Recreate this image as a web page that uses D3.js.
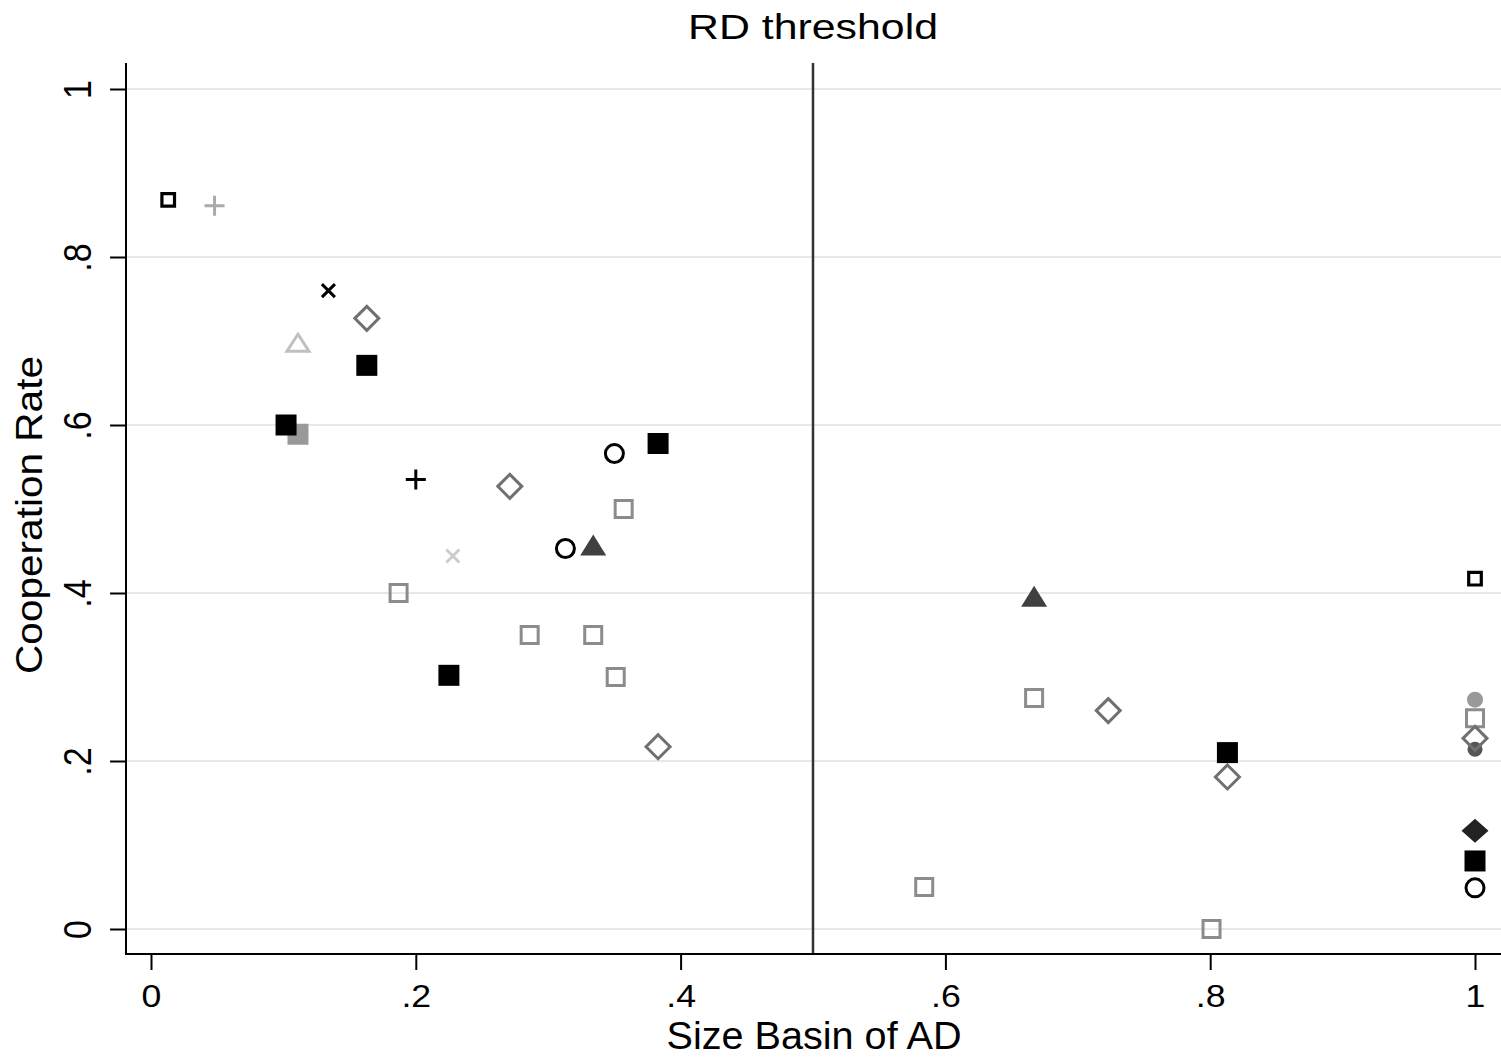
<!DOCTYPE html>
<html>
<head>
<meta charset="utf-8">
<script src="https://cdn.jsdelivr.net/npm/d3@7"></script>
<style>
  body { margin: 0; background: #fff; }
  svg { display: block; font-family: "Liberation Sans", Arial, sans-serif; }
</style>
</head>
<body>
<svg id="chart" width="1501" height="1062"></svg>
<script>
// ---- data (x = size of basin of AD, y = cooperation rate) ----
const xTicks = [0, 0.2, 0.4, 0.6, 0.8, 1];
const yTicks = [0, 0.2, 0.4, 0.6, 0.8, 1];
const threshold = 0.5;

const filledGrayCircle = [[1, 0.273]];
const filledDarkCircle = [[1, 0.214]];
const filledGraySquare = [[0.111, 0.589]];
const filledBlackSquare = [[0.163, 0.671], [0.102, 0.600], [0.383, 0.578], [0.225, 0.302], [0.813, 0.210], [1, 0.081]];
const hollowGraySquare = [[0.357, 0.500], [0.187, 0.400], [0.286, 0.350], [0.334, 0.350], [0.351, 0.300],
                          [0.667, 0.275], [0.584, 0.050], [0.801, 0.000], [1, 0.251]];
const hollowDiamond = [[0.163, 0.727], [0.271, 0.527], [0.383, 0.217], [0.723, 0.260], [0.813, 0.181], [1, 0.227]];
const hollowTriangle = [[0.111, 0.698]];
const filledTriangle = [[0.334, 0.457], [0.667, 0.396]];
const hollowCircle = [[0.350, 0.566], [0.313, 0.453], [1, 0.049]];
const blackPlus = [[0.200, 0.535]];
const grayPlus = [[0.048, 0.861]];
const blackCross = [[0.134, 0.760]];
const grayCross = [[0.228, 0.444]];
const smallSquare = [[0.013, 0.868], [1, 0.417]];
const filledDarkDiamond = [[1, 0.117]];

// ---- layout ----
const svg = d3.select('#chart');
const axisX = 126, axisY = 954, plotTop = 63, plotRight = 1501;

const x = d3.scaleLinear().domain([0, 1]).range([151, 1475]);
const y = d3.scaleLinear().domain([0, 1]).range([929, 89]);

const fmt = d => d === 0 ? "0" : d === 1 ? "1" : d3.format(".1f")(d).replace(/^0/, "");

svg.append("rect").attr("width", 1501).attr("height", 1062).attr("fill", "#fff");

// gridlines
svg.append("g").selectAll("line").data(yTicks).enter().append("line")
    .attr("x1", axisX).attr("x2", plotRight)
    .attr("y1", d => y(d)).attr("y2", d => y(d))
    .attr("stroke", "#e8e8e8").attr("stroke-width", 2);

// threshold line
svg.append("line")
    .attr("x1", x(threshold)).attr("x2", x(threshold))
    .attr("y1", plotTop).attr("y2", axisY)
    .attr("stroke", "#333").attr("stroke-width", 2.5);

// y axis
const gy = svg.append("g").attr("transform", `translate(${axisX},0)`)
    .call(d3.axisLeft(y).tickValues(yTicks).tickSize(16).tickFormat(fmt));
gy.select(".domain").remove();
gy.selectAll(".tick line").attr("stroke", "#000").attr("stroke-width", 2);
gy.selectAll(".tick text")
    .attr("x", null).attr("dy", null)
    .attr("fill", "#000")
    .attr("font-size", 34)
    .attr("text-anchor", "middle")
    .attr("transform", "translate(-35,0) rotate(-90) scale(1,1.15)");
svg.append("line").attr("x1", axisX).attr("x2", axisX).attr("y1", plotTop).attr("y2", axisY + 1)
    .attr("stroke", "#000").attr("stroke-width", 2);

// x axis
const gx = svg.append("g").attr("transform", `translate(0,${axisY})`)
    .call(d3.axisBottom(x).tickValues(xTicks).tickSize(16).tickFormat(fmt));
gx.select(".domain").remove();
gx.selectAll(".tick line").attr("stroke", "#000").attr("stroke-width", 2);
gx.selectAll(".tick text")
    .attr("y", 53).attr("dy", null)
    .attr("fill", "#000")
    .attr("font-size", 31)
    .attr("transform", "scale(1.15,1)");
svg.append("line").attr("x1", axisX - 1).attr("x2", plotRight).attr("y1", axisY).attr("y2", axisY)
    .attr("stroke", "#000").attr("stroke-width", 2);

// titles
svg.append("text").text("RD threshold")
    .attr("x", 813).attr("y", 39).attr("text-anchor", "middle")
    .attr("font-size", 35).attr("textLength", 250).attr("lengthAdjust", "spacingAndGlyphs");
svg.append("text").text("Size Basin of AD")
    .attr("x", 814).attr("y", 1049).attr("text-anchor", "middle")
    .attr("font-size", 38).attr("textLength", 295).attr("lengthAdjust", "spacingAndGlyphs");
svg.append("text").text("Cooperation Rate")
    .attr("transform", "translate(42,515) rotate(-90)").attr("text-anchor", "middle")
    .attr("font-size", 37).attr("textLength", 318).attr("lengthAdjust", "spacingAndGlyphs");

// ---- markers ----
const shapes = {
    square: s => `M${-s},${-s}H${s}V${s}H${-s}Z`,
    diamond: (w, h) => `M0,${-h}L${w},0L0,${h}L${-w},0Z`,
    triangle: (w, h) => `M0,${-h}L${w},${h}L${-w},${h}Z`,
    circle: r => d3.arc()({innerRadius: 0, outerRadius: r, startAngle: 0, endAngle: 2 * Math.PI}),
    plus: s => `M${-s},0H${s}M0,${-s}V${s}`,
    cross: s => `M${-s},${-s}L${s},${s}M${-s},${s}L${s},${-s}`
};

function markers(data, d, fill, stroke, width) {
    svg.append("g").selectAll("path").data(data).enter().append("path")
        .attr("transform", p => `translate(${x(p[0])},${y(p[1])})`)
        .attr("d", d)
        .attr("fill", fill)
        .attr("stroke", stroke)
        .attr("stroke-width", width || 0);
}

markers(filledGrayCircle, shapes.circle(8), "#999", "none");
markers(filledDarkCircle, shapes.circle(7.5), "#555", "none");
markers(filledGraySquare, shapes.square(10.5), "#999", "none");
markers(filledBlackSquare, shapes.square(10.5), "#000", "none");
markers(hollowGraySquare, shapes.square(8.5), "none", "#8c8c8c", 3);
markers(hollowDiamond, shapes.diamond(12, 12), "none", "#707070", 3);
markers(hollowTriangle, shapes.triangle(11, 8.5), "none", "#c0c0c0", 3);
markers(filledTriangle, shapes.triangle(13, 10.5), "#404040", "none");
markers(hollowCircle, shapes.circle(9), "none", "#000", 3);
markers(blackPlus, shapes.plus(10), "none", "#000", 3);
markers(grayPlus, shapes.plus(10), "none", "#aaa", 3);
markers(blackCross, shapes.cross(6.5), "none", "#000", 3);
markers(grayCross, shapes.cross(6.5), "none", "#ccc", 3);
markers(smallSquare, shapes.square(6.3), "none", "#000", 3.2);
markers(filledDarkDiamond, shapes.diamond(13.5, 12), "#222", "none");
</script>
</body>
</html>
